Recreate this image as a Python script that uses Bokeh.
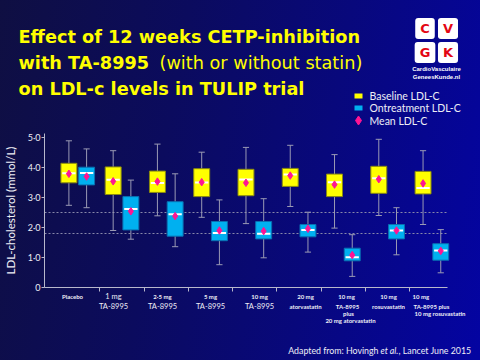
import numpy as np
from bokeh.plotting import figure
from bokeh.models import Range1d, FixedTicker, Label, LinearAxis, GlobalInlineStyleSheet
from bokeh.embed import file_html
from bokeh.resources import INLINE

# ---------------- data ----------------
groups = ["Placebo", "1 mg TA-8995", "2·5 mg TA-8995", "5 mg TA-8995", "10 mg TA-8995",
          "20 mg atorvastatin", "10 mg TA-8995 plus 20 mg atorvastatin",
          "10 mg rosuvastatin", "10 mg TA-8995 plus 10 mg rosuvastatin"]

base_lo   = [2.74, 1.90, 2.39, 2.34, 2.13, 2.70, 1.98, 2.40, 2.10]
base_q1   = [3.49, 3.10, 3.17, 3.03, 3.06, 3.37, 3.03, 3.14, 3.12]
base_med  = [3.81, 3.59, 3.48, 3.50, 3.60, 3.77, 3.51, 3.64, 3.32]
base_q3   = [4.14, 4.02, 3.88, 3.96, 3.94, 3.97, 3.78, 4.04, 3.87]
base_hi   = [4.89, 4.56, 4.78, 4.51, 4.67, 4.74, 4.43, 4.94, 4.56]
base_mean = [3.79, 3.54, 3.53, 3.51, 3.49, 3.73, 3.43, 3.61, 3.47]

on_lo   = [2.66, 1.61, 1.36, 0.76, 0.99, 1.18, 0.37, 1.09, 0.49]
on_q1   = [3.42, 1.92, 1.71, 1.56, 1.62, 1.69, 0.89, 1.62, 0.91]
on_med  = [3.82, 2.62, 2.44, 1.82, 1.79, 1.92, 1.01, 1.90, 1.23]
on_q3   = [4.01, 3.03, 2.86, 2.20, 2.20, 2.10, 1.31, 2.10, 1.46]
on_hi   = [4.62, 3.58, 3.79, 2.92, 2.96, 2.51, 1.76, 2.66, 1.93]
on_mean = [3.70, 2.54, 2.38, 1.90, 1.88, 1.96, 1.08, 1.90, 1.22]

ref_levels = [2.5, 1.8]
y_ticks = [0, 1, 2, 3, 4, 5]
y_tick_labels = ["0", "1·0", "2·0", "3·0", "4·0", "5·0"]

legend_labels = ["Baseline LDL-C", "Ontreatment LDL-C", "Mean LDL-C"]

# ---------------- layout ----------------
W, H = 480, 360
PX_X, PX_Y = 44.27, 30.0          # pixels per data unit
XL = 4 - 254.33 / PX_X
XR = XL + W / PX_X
YB = -73 / PX_Y
YT = YB + H / PX_Y


def dx(px):
    return XL + px / PX_X


def dy(py):
    return YT - py / PX_Y


YELLOW, YEDGE = "#ffff00", "#8a8a10"
BLUE, BEDGE = "#00b0f0", "#0a6fb0"
MEAN = "#ff1493"
WHISK = "#9a9ab4"
AXC = "#b8b8cc"
TXT = "#eeeef6"

p = figure(width=W, height=H, x_range=Range1d(XL, XR), y_range=Range1d(YB, YT),
           output_backend="svg", toolbar_location=None, x_axis_location=None,
           y_axis_location=None, min_border=0)
p.border_fill_color = None
p.background_fill_color = None
p.outline_line_color = None
p.styles = {"background": "linear-gradient(100deg, #0f0f42 0%, #0b0b5e 35%, #08087c 65%, #0404a2 100%)"}
p.stylesheets = [GlobalInlineStyleSheet(css="body { background-color: #0a0a60; }")]
p.xgrid.visible = False
p.ygrid.visible = False

ax_x0, ax_x1 = dx(44), dx(447)

# reference lines
p.segment(x0=[ax_x0] * len(ref_levels), x1=[ax_x1] * len(ref_levels), y0=ref_levels,
          y1=ref_levels, line_color="#8888aa", line_dash="2 2", line_width=1)

idx = np.arange(len(groups))
OFF, BW, CAP = 0.2, 0.36, 0.14
series = [
    (idx - OFF, base_lo, base_q1, base_med, base_q3, base_hi, base_mean, YELLOW, YEDGE),
    (idx + OFF, on_lo, on_q1, on_med, on_q3, on_hi, on_mean, BLUE, BEDGE),
]
for x, lo, q1, med, q3, hi, mean, fill, edge in series:
    p.segment(x, lo, x, hi, line_color=WHISK, line_width=1)
    p.segment(x - CAP / 2, lo, x + CAP / 2, lo, line_color=WHISK, line_width=1)
    p.segment(x - CAP / 2, hi, x + CAP / 2, hi, line_color=WHISK, line_width=1)
    p.vbar(x=x, width=BW, bottom=q1, top=q3, fill_color=fill, line_color=edge, line_width=1)
    p.segment(x - BW / 2 + 0.03, med, x + BW / 2 - 0.03, med, line_color="white", line_width=2)
    p.scatter(x, mean, marker="diamond", size=7.5, fill_color=MEAN, line_color=MEAN)

# axes (fixed inside the full-canvas frame)
yax = LinearAxis(fixed_location=ax_x0, ticker=FixedTicker(ticks=y_ticks),
                 major_label_overrides={t: l for t, l in zip(y_ticks, y_tick_labels)},
                 bounds=(0, 5.12), axis_line_color=AXC, major_tick_line_color=AXC,
                 major_tick_out=3, major_tick_in=0, minor_tick_line_color=None,
                 major_label_text_font="Lato", major_label_text_font_size="9px",
                 major_label_text_color=TXT, major_label_standoff=1,
                 axis_label="LDL-cholesterol (mmol/L)", axis_label_text_font="Lato",
                 axis_label_text_font_style="normal", axis_label_text_font_size="11.5px",
                 axis_label_text_color=TXT, axis_label_standoff=8)
p.add_layout(yax, "left")

xt = list(idx[:-1] + 0.5)
xax = LinearAxis(fixed_location=0, ticker=FixedTicker(ticks=xt),
                 major_label_overrides={t: "" for t in xt}, bounds=(ax_x0, ax_x1),
                 axis_line_color=AXC, major_tick_line_color=AXC, major_tick_out=4,
                 major_tick_in=0, minor_tick_line_color=None)
p.add_layout(xax, "below")


def lab(text, px, py, size, color=TXT, font="Lato", style="normal",
        align="left", baseline="alphabetic", **kw):
    p.add_layout(Label(x=dx(px), y=dy(py), text=text, text_font=font,
                       text_font_size=f"{size}px", text_font_style=style,
                       text_color=color, text_align=align, text_baseline=baseline, **kw))


# title
TF = "DejaVu Sans"
lab("Effect of 12 weeks CETP-inhibition", 18, 36, 17.7, "#ffff00", TF, "bold")
lab("with TA-8995", 18, 62, 17.7, "#ffff00", TF, "bold")
lab("(with or without statin)", 159, 62, 17.7, "#ffff00", TF, "normal")
lab("on LDL-c levels in TULIP trial", 18, 88, 17.7, "#ffff00", TF, "bold")

# logo
for ch, cx, cy in [("C", 424.5, 28), ("V", 447.5, 28), ("G", 424.5, 52), ("K", 447.5, 52)]:
    lab(ch, cx, cy, 13, "#e30613", "DejaVu Sans", "bold", "center", "middle",
        background_fill_color="white", padding=(5, 3), border_radius=3)
lab("CardioVasculaire", 436, 68.5, 6, "white", "Liberation Sans", "bold", "center")
lab("GeneesKunde.nl", 436, 76, 6, "white", "Liberation Sans", "bold", "center")

# legend
lx, ly = dx(358), [dy(95.5), dy(107.5), dy(120)]
p.rect(x=[lx, lx], y=ly[:2], width=8, height=5, width_units="screen", height_units="screen",
       fill_color=[YELLOW, BLUE], line_color=None)
p.scatter(x=[lx], y=[ly[2]], marker="diamond", size=9, fill_color=MEAN, line_color=MEAN)
for t, yy in zip(legend_labels, [95.5, 107.5, 120]):
    lab(t, 369, yy, 10.5, TXT, "Lato", "normal", "left", "middle")

# category labels
S, B = (6, "bold"), (7.5, "normal")
cat_labels = [
    ("Placebo", 72, 296, S), ("1 mg", 113, 296, B), ("TA-8995", 113, 306, B),
    ("2·5 mg", 162, 296, S), ("TA-8995", 162, 306, B),
    ("5 mg", 210, 296, S), ("TA-8995", 210, 306, B),
    ("10 mg", 259, 296, S), ("TA-8995", 259, 306, B),
    ("20 mg", 305, 296, S), ("atorvastatin", 305, 305.5, S),
    ("10 mg", 346, 296, S), ("TA-8995", 347, 305.5, S), ("plus", 348, 313, S),
    ("20 mg atorvastatin", 350, 320, S),
    ("10 mg", 388, 296, S), ("rosuvastatin", 388, 305.5, S),
]
for t, cx, cy, (sz, st) in cat_labels:
    lab(t, cx, cy, sz, TXT, "Lato", st, "center", "middle")
for t, lx_, cy in [("10 mg", 412, 296), ("TA-8995 plus", 413, 305.5), ("10 mg rosuvastatin", 414, 313)]:
    lab(t, lx_, cy, 6, TXT, "Lato", "bold", "left", "middle")

# footer
lab("Adapted from: Hovingh", 378, 350, 8.8, TXT, "Lato", "normal", "right")
lab("et al.", 380, 350, 8.8, TXT, "Lato", "italic", "left")
lab(", Lancet June 2015", 398, 350, 8.8, TXT, "Lato", "normal", "left")

open("out.html", "w").write(file_html(p, INLINE))
